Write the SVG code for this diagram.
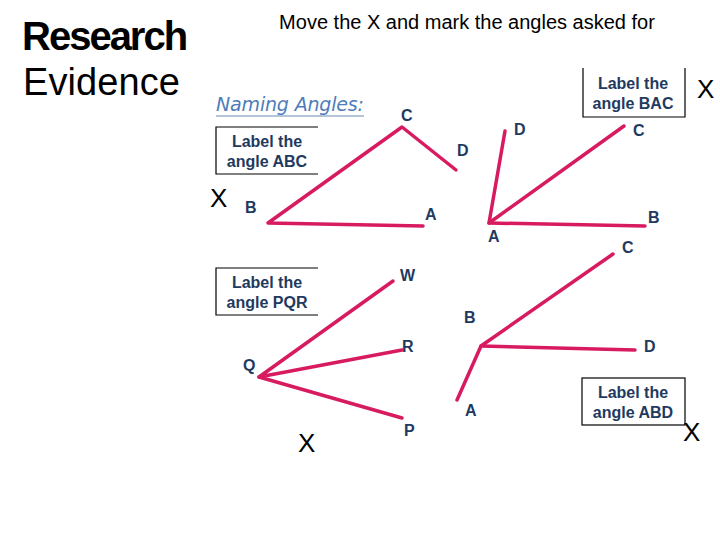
<svg xmlns="http://www.w3.org/2000/svg" width="720" height="540" viewBox="0 0 720 540">
<style>
.ln{stroke:#d81b60;stroke-width:3.5;fill:none;stroke-linecap:round;stroke-linejoin:round}
.lb{font-family:"Liberation Sans",Arial,sans-serif;font-weight:bold;font-size:16px;fill:#1f3a60}
.bx{font-family:"Liberation Sans",Arial,sans-serif;font-weight:bold;font-size:16px;fill:#1f3a60;text-anchor:middle}
.br{stroke:#000;stroke-width:1.2;fill:none}
.x{font-family:"Liberation Sans",Arial,sans-serif;font-size:26px;fill:#000}
</style>
<rect width="720" height="540" fill="#fff"/>
<g id="title">
<text x="22" y="50" font-family="Liberation Sans Narrow,Liberation Sans,sans-serif" font-weight="bold" font-size="40" letter-spacing="-2" fill="#000">Research</text>
<text x="23" y="95" font-family="Liberation Sans,sans-serif" font-size="38" fill="#000" textLength="157">Evidence</text>
<text x="467" y="29" font-family="Liberation Sans,sans-serif" font-size="20" fill="#000" text-anchor="middle">Move the X and mark the angles asked for</text>
<text x="216" y="111" font-family="DejaVu Sans,sans-serif" font-style="italic" font-size="19" fill="#4f7cba" textLength="148">Naming Angles:</text>
<line x1="216" y1="116" x2="364" y2="116" stroke="#9bb0cc" stroke-width="1.5"/>
</g>
<g id="connectors">
<polyline class="ln" points="423,226 268,223 402,127 456,170"/>
<polyline class="ln" points="505,131 489,223 624,126"/>
<line class="ln" x1="489" y1="223" x2="645" y2="226"/>
<polyline class="ln" points="457,400 481,346 613,254"/>
<line class="ln" x1="481" y1="346" x2="635" y2="350"/>
<polyline class="ln" points="393,281 259,377 402,350"/>
<line class="ln" x1="259" y1="377" x2="402" y2="418"/>
</g>
<g id="box-abc">
<polyline class="br" points="318,127 216,127 216,174 318,174"/>
<text class="bx" x="267" y="147">Label the</text><text class="bx" x="267" y="167">angle ABC</text>
</g>
<g id="box-bac">
<polyline class="br" points="583,68 583,117 685,117 685,68"/>
<text class="bx" x="633" y="89">Label the</text><text class="bx" x="633" y="109">angle BAC</text>
</g>
<g id="box-pqr">
<polyline class="br" points="318,268 216,268 216,315 318,315"/>
<text class="bx" x="267" y="288">Label the</text><text class="bx" x="267" y="308">angle PQR</text>
</g>
<g id="box-abd">
<rect class="br" x="582" y="378" width="103" height="47"/>
<text class="bx" x="633" y="398">Label the</text><text class="bx" x="633" y="418">angle ABD</text>
</g>
<g id="labels">
<text class="lb" x="401" y="121">C</text><text class="lb" x="457" y="156">D</text>
<text class="lb" x="245" y="213">B</text><text class="lb" x="425" y="220">A</text>
<text class="lb" x="514" y="135">D</text><text class="lb" x="633" y="136">C</text>
<text class="lb" x="488" y="242">A</text><text class="lb" x="648" y="223">B</text>
<text class="lb" x="622" y="253">C</text><text class="lb" x="464" y="323">B</text>
<text class="lb" x="644" y="352">D</text><text class="lb" x="465" y="416">A</text>
<text class="lb" x="400" y="281">W</text><text class="lb" x="402" y="352">R</text>
<text class="lb" x="243" y="371">Q</text><text class="lb" x="404" y="436">P</text>
</g>
<g id="marks">
<text class="x" x="210" y="207">X</text>
<text class="x" x="697" y="98">X</text>
<text class="x" x="298" y="452">X</text>
<text class="x" x="683" y="441">X</text>
</g>
</svg>
